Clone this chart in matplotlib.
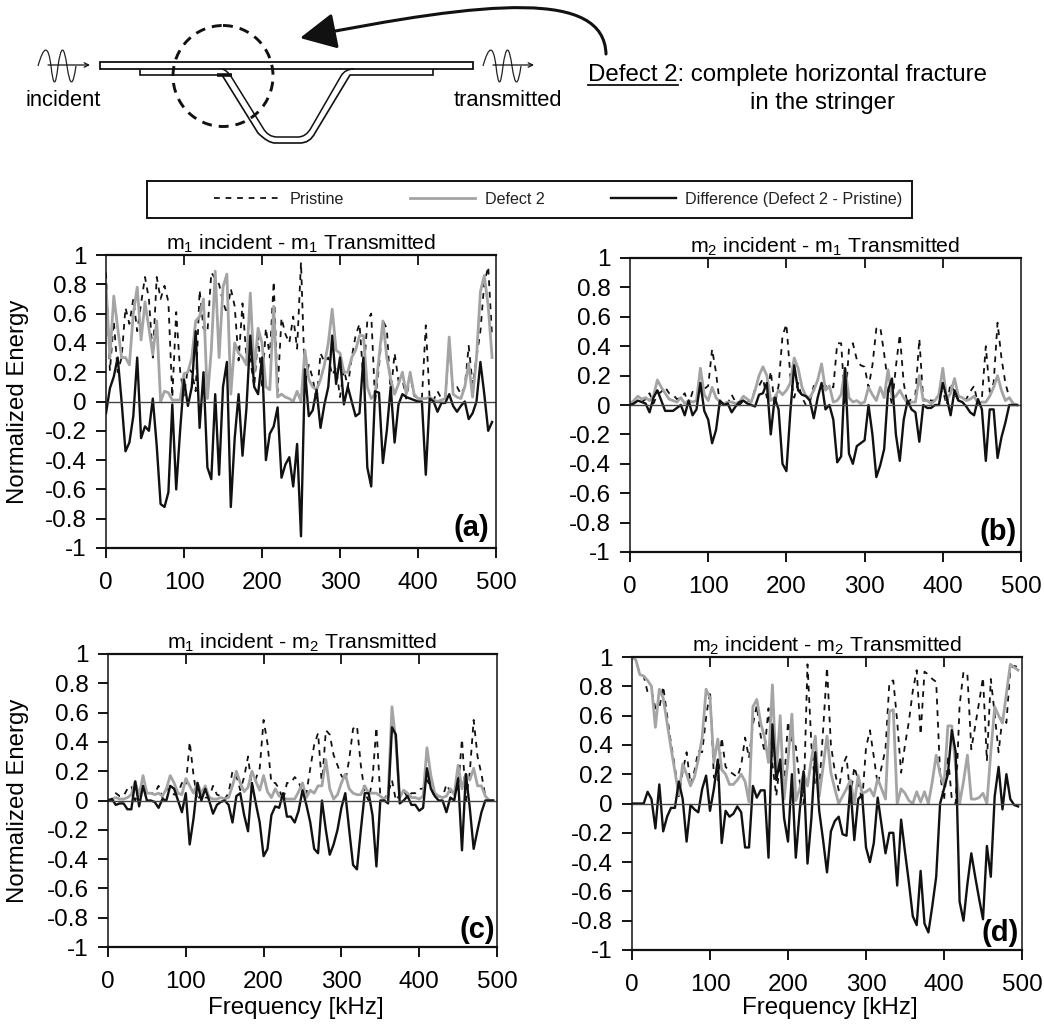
import numpy as np
import matplotlib
matplotlib.use("Agg")
import matplotlib.pyplot as plt
from matplotlib.path import Path
from matplotlib.patches import FancyArrowPatch, PathPatch, Ellipse, Rectangle

plt.rcParams['font.family'] = ['Liberation Sans', 'DejaVu Sans']
plt.rcParams['mathtext.default'] = 'regular'

frequency = list(range(0, 500, 5))
x_ticks = [0, 100, 200, 300, 400, 500]
y_ticks = [-1, -0.8, -0.6, -0.4, -0.2, 0, 0.2, 0.4, 0.6, 0.8, 1]
y_tick_labels = ['-1', '-0.8', '-0.6', '-0.4', '-0.2', '0', '0.2', '0.4', '0.6', '0.8', '1']

pristine_a = [.88,.21,.55,.2,.3,.64,.53,.7,.48,.67,
              .85,.7,.3,.85,.7,.79,.68,.03,.61,.21,
              .04,.23,.2,.07,.76,.5,.47,.88,.84,.8,
              .68,.6,.77,.65,.28,.67,.3,.29,.1,.45,
              .1,.5,.3,.82,.07,.57,.46,.4,.58,.36,
              .95,.13,.25,.16,0,.33,.27,.3,.18,.23,
              .03,.22,.1,.3,.45,.53,.15,.55,.6,0,
              .24,.55,.5,.05,.33,.14,.15,.02,.18,.04,
              .02,.02,.52,.01,.01,.07,.02,.03,.39,.08,
              .1,.05,.1,.38,.11,.3,.48,.81,.92,.44]
defect_a = [.8,.3,.72,.5,.3,.3,.25,.6,.78,.42,
            .68,.5,.32,.55,0,.07,.06,.01,.01,.01,
            .19,.2,.3,.55,.58,.7,.02,.35,.89,.3,
            .78,.87,.05,.4,.33,.3,.25,.74,.2,.5,
            .4,.1,.08,.65,.03,.05,.03,.02,0,.07,
            0,.35,.15,.1,.08,.15,.25,.4,.63,.35,
            .33,.2,.2,.3,.35,.45,.45,.1,.02,.05,
            .3,.55,.3,.15,.05,.12,.2,.05,.2,.05,
            .02,.02,.02,.03,.01,0,.01,.02,.44,.05,
            .03,.02,.1,.26,.03,.3,.75,.86,.65,.3]
difference_a = [-.08,.09,.17,.3,0,-.34,-.28,-.1,.3,-.25,
                -.17,-.2,.02,-.3,-.7,-.72,-.62,-.02,-.6,-.2,
                .15,-.03,.1,.48,-.18,.2,-.45,-.53,.05,-.5,
                .1,.27,-.72,-.25,.05,-.37,-.05,.45,.1,.05,
                .3,-.4,-.22,-.17,-.04,-.52,-.43,-.38,-.58,-.29,
                -.92,.22,-.1,-.06,.08,-.18,-.02,.1,.45,.12,
                .3,-.02,.1,0,-.1,-.08,.3,-.45,-.58,.07,
                .06,-.42,-.2,.1,-.28,-.02,.05,.03,.02,.01,
                0,0,-.5,.02,0,-.07,-.01,-.01,.05,-.03,
                -.07,-.03,0,-.12,-.08,0,.27,.05,-.2,-.14]

pristine_b = [.01,.02,.03,.02,.04,.08,.01,.07,.09,.12,
              .08,.07,.04,.05,.08,0,.09,.06,.1,.11,
              .13,.38,.22,0,.01,.01,.07,.02,0,.03,
              .03,.02,.11,.13,.18,.05,.23,0,.13,.47,
              .55,.2,.05,.15,.05,0,.02,.13,.12,.13,
              .13,.13,.12,.42,.42,0,.38,.42,.31,.27,
              .26,.12,.27,.52,.53,.35,.14,0,.26,.48,
              .15,0,.05,.07,.45,.03,.05,.03,.03,.07,
              .1,0,.15,.08,.03,.03,.04,.09,.13,0,
              .05,.4,.09,.15,.56,.32,.15,.05,.01,0]
defect_b = [.01,.03,.06,.04,.05,.03,.06,.17,.12,.08,
            .04,.03,.02,.05,.01,.03,.02,.03,.25,.07,
            .03,.12,.05,.02,.01,.02,.02,.01,.02,.06,
            .04,.02,.1,.2,.26,.2,.03,.05,.1,.07,
            .1,.15,.32,.25,.12,.06,.05,.1,.17,.28,
            .1,.13,.02,.03,.07,.25,.05,.02,.03,.01,
            .02,.12,.07,.03,.12,.05,.24,.05,.06,.1,
            .05,.01,.02,.02,.2,.03,.03,.01,.03,.07,
            .25,.04,.08,.18,.06,.05,.03,.04,.06,.01,
            .02,.02,.06,.12,.2,.1,.03,.05,.01,0]
difference_b = [0,.01,.03,.02,.01,-.05,.05,.1,.03,-.04,
                -.04,-.04,-.02,0,-.07,.03,-.07,-.03,.15,-.04,
                -.1,-.26,-.17,.03,0,.01,-.05,-.01,.02,.03,
                .01,0,-.01,.07,.08,.15,-.2,.05,-.03,-.4,
                -.45,-.05,.27,.1,.07,.06,.03,-.09,.05,.15,
                -.03,0,-.1,-.39,-.35,.25,-.33,-.4,-.28,-.26,
                -.24,0,-.2,-.49,-.41,-.3,.1,.18,-.2,-.38,
                -.1,.03,-.03,-.05,-.25,0,-.02,-.02,0,0,
                .15,.05,-.07,.1,.03,.02,-.01,-.05,-.07,.04,
                -.03,-.38,-.03,-.03,-.36,-.22,-.12,0,0,0]

pristine_c = [0,0,.05,.03,.03,.08,.1,0,.07,.07,
              .05,.05,.05,.1,.02,.08,.07,.04,.05,.12,
              .1,.4,.17,0,.05,.02,.02,.1,.04,.03,
              .01,.05,.2,.17,.07,.16,.3,.08,.15,.22,
              .55,.39,.12,.12,.08,0,.12,.12,.16,.13,
              .05,.05,.22,.38,.46,.1,.48,.45,.31,.24,
              .17,.13,.28,.49,.51,.24,.05,0,.15,.5,
              .03,.01,.05,.14,0,.04,.07,.02,.05,.05,
              .08,.08,.14,.09,.02,.03,.02,.11,.06,.04,
              .09,.42,0,.19,.55,.3,.18,.03,0,0]
defect_c = [0,.01,.02,.01,.01,.02,.04,.13,.03,.17,
            .05,.05,.04,.05,.03,.08,.17,.12,.05,.04,
            .15,.1,.05,.12,.05,.1,.02,.01,.01,.02,
            .01,.02,.1,.2,.12,.06,.09,.2,.13,.07,
            .17,.06,.02,.08,.03,.02,.01,.01,.01,.06,
            .12,.02,.07,.05,.1,.1,.28,.08,.01,.04,
            .12,.18,.08,.05,.04,.04,.1,.05,.05,.05,
            .03,.01,.03,.64,.4,.02,.07,.05,.02,.02,
            .01,.03,.36,.17,.05,.03,.02,.03,.08,.04,
            .24,.08,.18,.14,.22,.1,.1,.03,0,0]
difference_c = [0,.01,-.03,-.02,-.02,-.06,-.06,.13,-.04,.1,
                0,0,-.01,-.05,.01,0,.1,.08,0,-.08,
                .05,-.3,-.12,.12,0,.08,0,-.09,-.03,-.01,
                0,-.03,-.15,.03,.05,-.1,-.21,.12,-.02,-.15,
                -.38,-.33,-.1,-.04,-.05,.05,-.11,-.11,-.15,-.07,
                .07,-.03,-.15,-.33,-.36,0,-.2,-.37,-.3,-.2,
                -.05,.05,-.2,-.44,-.47,-.2,.05,.05,-.1,-.45,
                0,0,-.02,.5,.45,-.02,0,.03,-.03,-.03,
                -.07,-.05,.22,.08,.03,0,0,-.08,.02,0,
                .15,-.34,.18,-.05,-.33,-.2,-.08,0,0,0]

pristine_d = [1,.98,.88,.87,.76,.77,.65,.65,.8,.6,
              .41,.25,.05,.22,.35,.13,.22,.36,.35,.59,
              .77,.18,.14,.45,.25,.22,.2,.18,.26,.45,
              .31,.54,.67,.46,.36,.65,.27,.05,.3,.13,
              .56,.41,.39,.15,0,.95,.4,.11,.1,.5,
              .93,.4,.22,.09,.26,.32,.04,.25,.16,.01,
              .38,.5,.32,.13,.25,.37,.83,.84,.56,.21,
              .4,.56,.77,.91,.47,.9,.88,.85,.83,.2,
              .02,.33,.03,0,.67,.9,.88,.37,.53,.69,
              .86,.29,.85,.61,.35,.59,.55,.92,.94,.93]
defect_d = [1,.98,.88,.87,.84,.8,.52,.78,.72,.55,
            .38,.22,.06,.27,.2,.12,.18,.3,.45,.78,
            .72,.28,.44,.23,.2,.13,.13,.16,.2,.15,
            .01,.66,.71,.55,.45,.28,.81,.21,.6,.03,
            .3,.61,.02,.1,.21,.12,.3,.46,.05,.25,
            .46,.21,.1,0,.05,.1,.16,0,.19,.07,
            .08,.1,.05,.17,.1,.03,.63,.64,0,.1,
            .07,.02,0,.08,.01,.08,0,.15,.33,.2,
            .12,.53,.53,.25,0,.15,.33,.03,.03,.04,
            .07,0,.35,.66,.6,.55,.75,.95,.93,.91]
difference_d = [0,0,0,0,.08,.03,-.17,.13,-.19,-.09,
                -.03,-.03,.15,.03,-.26,-.01,-.04,-.06,.1,.19,
                -.05,.1,.3,-.27,-.05,-.09,-.07,-.02,-.06,-.3,
                -.3,.12,.04,.09,.09,-.37,.54,.16,.3,-.1,
                -.26,.2,-.37,-.05,.22,-.41,-.1,.35,-.05,-.25,
                -.47,-.19,-.12,-.09,-.21,-.22,.12,-.25,.03,.06,
                -.3,-.4,-.27,.04,-.15,-.34,-.2,-.2,-.56,-.11,
                -.33,-.54,-.77,-.83,-.46,-.82,-.88,-.7,-.5,0,
                .1,.2,.5,.35,-.67,-.8,-.55,-.34,-.5,-.65,
                -.79,-.29,-.5,.05,.25,-.04,.2,.03,-.01,-.02]

W, H = 1044, 1025
fig = plt.figure(figsize=(W / 100, H / 100), dpi=100)

def px_axes(left, right, top, bottom):
    return fig.add_axes([left / W, 1 - bottom / H, (right - left) / W, (bottom - top) / H])

panels = [
    (106, 496, 255, 548, 'm$_1$ incident - m$_1$ Transmitted', '(a)', (.982, .068), pristine_a, defect_a, difference_a, True, None),
    (630, 1021, 258, 552, 'm$_2$ incident - m$_1$ Transmitted', '(b)', (.99, .068), pristine_b, defect_b, difference_b, False, None),
    (108, 497, 654, 947, 'm$_1$ incident - m$_2$ Transmitted', '(c)', (.995, .058), pristine_c, defect_c, difference_c, True, (.483, -.208)),
    (632, 1022, 657, 950, 'm$_2$ incident - m$_2$ Transmitted', '(d)', (.993, .058), pristine_d, defect_d, difference_d, False, (.508, -.198)),
]
line_handles = None
for left, right, top, bottom, title, letter, letter_xy, p, g, d, ylab, xlab in panels:
    ax = px_axes(left, right, top, bottom)
    l1, = ax.plot(frequency, p, color='#111111', lw=1.3, dashes=(3.2, 3.2), label='Pristine')
    l2, = ax.plot(frequency, g, color='#a4a4a4', lw=2.0, label='Defect 2')
    l3, = ax.plot(frequency, d, color='#111111', lw=1.7, label='Difference (Defect 2 - Pristine)')
    ax.axhline(0, color='#444444', lw=1.0)
    line_handles = [l1, l2, l3]
    ax.set_xlim(0, 500)
    ax.set_ylim(-1, 1)
    ax.set_xticks(x_ticks)
    ax.set_yticks(y_ticks)
    ax.set_yticklabels(y_tick_labels)
    ax.tick_params(axis='x', direction='out', length=7, width=1.3, labelsize=17.5, pad=10)
    ax.tick_params(axis='y', direction='out', length=7, width=1.3, labelsize=17.5, pad=7)
    for xt in x_ticks[1:-1]:
        ax.plot([xt, xt], [1, 1 - 20 / ((bottom - top) / 2) / 2], color='#111111', lw=1.3,
                solid_capstyle='butt')
    for name, s in ax.spines.items():
        s.set_linewidth(1.6 if name in ('top', 'bottom') else 1.1)
        s.set_color('#111111')
    ax.set_title(title, fontsize=15.3, pad=2)
    ax.text(letter_xy[0], letter_xy[1], letter, transform=ax.transAxes, ha='right', va='center',
            fontsize=21, fontweight='bold')
    if ylab:
        ax.set_ylabel('Normalized Energy', fontsize=17.3, va='center')
        ax.yaxis.set_label_coords((18 - left) / (right - left), 0.5)
    if xlab:
        ax.set_xlabel('Frequency [kHz]', fontsize=17.4, va='center')
        ax.xaxis.set_label_coords(*xlab)

leg = fig.legend(handles=line_handles, loc='center', ncol=3,
                 bbox_to_anchor=(558.5 / W, 1 - 199.5 / H), fontsize=11.6,
                 frameon=False, labelcolor='#222222',
                 handlelength=4.05, handletextpad=0.6, columnspacing=4.1,
                 borderpad=0, borderaxespad=0)

# schematic overlay in pixel coordinates
ov = fig.add_axes([0, 0, 1, 1], zorder=-1)
ov.set_xlim(0, W)
ov.set_ylim(H, 0)
ov.axis('off')
ov.add_patch(Rectangle((147, 181), 765, 37, fc='white', ec='#111111', lw=1.4))
ov.add_patch(Rectangle((100, 62), 373, 7, fc='white', ec='#111111', lw=1.3))
outer = Path([(140, 69), (140, 75), (222, 75), (258, 133), (268, 143), (275, 143), (300, 143),
              (310, 143), (315, 133), (350, 75), (433, 75), (433, 69)],
             [Path.MOVETO, Path.LINETO, Path.LINETO, Path.LINETO, Path.CURVE3, Path.CURVE3,
              Path.LINETO, Path.CURVE3, Path.CURVE3, Path.LINETO, Path.LINETO, Path.LINETO])
inner = Path([(222, 69), (227, 70), (232, 78), (263, 128), (268, 137), (277, 137), (298, 137),
              (306, 137), (311, 128), (341, 76), (345, 69), (354, 69)],
             [Path.MOVETO, Path.CURVE3, Path.CURVE3, Path.LINETO, Path.CURVE3, Path.CURVE3,
              Path.LINETO, Path.CURVE3, Path.CURVE3, Path.LINETO, Path.CURVE3, Path.CURVE3])
ov.add_patch(PathPatch(outer, fc='none', ec='#111111', lw=1.2))
ov.add_patch(PathPatch(inner, fc='none', ec='#111111', lw=1.1))
ov.plot([217, 232], [75, 75], color='#111111', lw=2.6, solid_capstyle='butt')
ov.add_patch(Ellipse((223, 76), 100, 101, fc='none', ec='#111111', lw=2.1, ls=(0, (3.4, 2.4))))

def wave(x0):
    verts = [(x0, 66), (x0 + 9, 34), (x0 + 13, 66), (x0 + 16.5, 98), (x0 + 20, 66),
             (x0 + 24.5, 34), (x0 + 29, 66), (x0 + 33.5, 98), (x0 + 38, 66)]
    codes = [Path.MOVETO] + [Path.CURVE3] * 8
    ov.add_patch(PathPatch(Path(verts, codes), fc='none', ec='#222222', lw=0.9))

for x0, x1 in [(38, 90), (483, 534)]:
    wave(x0)
    ov.annotate('', xy=(x1, 65), xytext=(x0 + 10, 65),
                arrowprops=dict(arrowstyle='->', color='#111111', lw=0.9, mutation_scale=8,
                                shrinkA=0, shrinkB=0))
ov.text(63, 101, 'incident', ha='center', va='center', fontsize=15.8)
ov.text(508, 101, 'transmitted', ha='center', va='center', fontsize=15.8)
ov.text(588, 75, 'Defect 2: complete horizontal fracture', ha='left', va='center', fontsize=17.3)
ov.text(822, 103, 'in the stringer', ha='center', va='center', fontsize=17.3)
ov.plot([588, 678], [85, 85], color='#111111', lw=1.3)
curve = Path([(606, 54), (604, -10), (490, 0), (300, 38)], [Path.MOVETO, Path.CURVE4, Path.CURVE4, Path.CURVE4])
ov.add_patch(FancyArrowPatch(path=curve, arrowstyle='-|>,head_length=0.7,head_width=0.35',
                             mutation_scale=32, lw=2.2, color='#111111', shrinkA=0, shrinkB=0))

fig.savefig('out.png', dpi=100)
